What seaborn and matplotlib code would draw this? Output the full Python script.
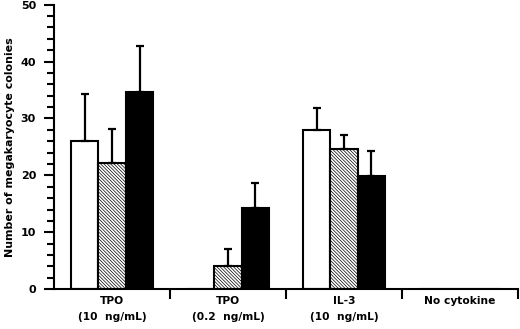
import numpy as np
import pandas as pd
import matplotlib
matplotlib.use("Agg")
import matplotlib.pyplot as plt
import seaborn as sns
from matplotlib.ticker import MultipleLocator

# data
categories = ["TPO\n(10  ng/mL)", "TPO\n(0.2  ng/mL)", "IL-3\n(10  ng/mL)", "No cytokine"]
groups = ["open", "hatched", "solid"]
open_vals = [26.0, 0, 28.0, 0]
open_err = [8.3, np.nan, 3.9, np.nan]
hatched_vals = [22.2, 4.0, 24.6, 0]
hatched_err = [5.9, 3.0, 2.5, np.nan]
solid_vals = [34.6, 14.3, 19.8, 0]
solid_err = [8.2, 4.4, 4.5, np.nan]

vals = [open_vals, hatched_vals, solid_vals]
errs = [open_err, hatched_err, solid_err]

df = pd.DataFrame({
    "cat": categories * 3,
    "grp": np.repeat(groups, len(categories)),
    "val": open_vals + hatched_vals + solid_vals,
})

sns.set_style("ticks", {"text.color": "black", "axes.labelcolor": "black",
                        "xtick.color": "black", "ytick.color": "black",
                        "axes.edgecolor": "black"})
plt.rcParams["font.family"] = ["DejaVu Sans"]
plt.rcParams["hatch.linewidth"] = 0.5

fig = plt.figure(figsize=(5.2, 3.29), dpi=100)
ax = fig.add_axes([0.104, 0.121, 0.892, 0.865])

sns.barplot(data=df, x="cat", y="val", hue="grp", order=categories,
            hue_order=groups, palette=["white", "white", "black"],
            width=0.71, gap=0, saturation=1, errorbar=None,
            edgecolor="black", linewidth=1.5, legend=False, ax=ax)

# hatch the middle series and add upper-only error bars
bar_sets = list(ax.containers)
for i, cont in enumerate(bar_sets):
    for j, bar in enumerate(cont):
        if i == 1:
            bar.set_hatch("\\" * 10)
        e = errs[i][j]
        if np.isnan(e):
            continue
        x = bar.get_x() + bar.get_width() / 2
        ax.errorbar(x, bar.get_height(), yerr=[[0], [e]], fmt="none",
                    ecolor="black", elinewidth=1.6, capsize=3.2, capthick=1.6,
                    zorder=1)

ax.set_xlim(-0.5, 3.5)
ax.set_ylim(0, 50)
ax.yaxis.set_major_locator(MultipleLocator(10))
ax.yaxis.set_minor_locator(MultipleLocator(2))
ax.set_xticks([0.5, 1.5, 2.5, 3.5], minor=True)
ax.set_xticks(range(4))
ax.set_xticklabels(categories, fontsize=7.7, fontweight="bold", linespacing=1.7)
ax.tick_params(axis="x", which="major", length=0, pad=5)
ax.tick_params(axis="x", which="minor", length=7, width=1.5, direction="out")
ax.tick_params(axis="y", which="major", length=7, width=1.5, labelsize=8, pad=6)
ax.tick_params(axis="y", which="minor", length=5, width=1.5)
for lab in ax.get_yticklabels():
    lab.set_fontweight("bold")

ax.set_xlabel("")
ax.set_ylabel("Number of megakaryocyte colonies", fontsize=7.9,
              fontweight="bold", labelpad=4)
sns.despine(ax=ax)
ax.spines["left"].set_linewidth(1.5)
ax.spines["bottom"].set_linewidth(1.5)

fig.savefig("out.png", dpi=100)
